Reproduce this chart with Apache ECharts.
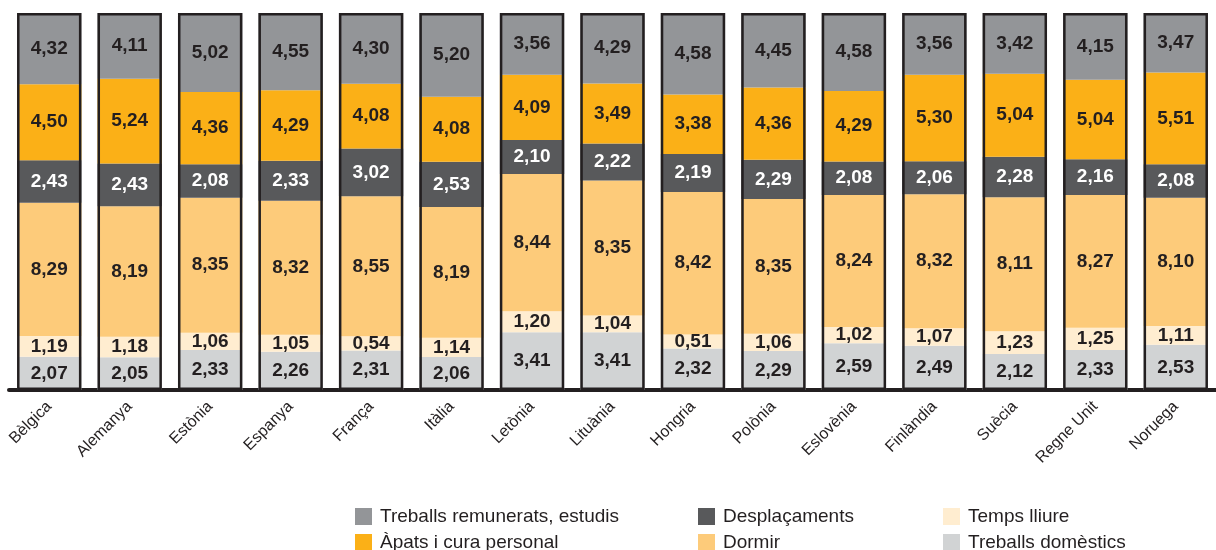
<!DOCTYPE html>
<html>
<head>
<meta charset="utf-8">
<script src="https://cdn.jsdelivr.net/npm/echarts@6/dist/echarts.min.js"></script>
<style>html,body{margin:0;padding:0;background:#fff}#c{width:1216px;height:550px}</style>
</head>
<body>
<div id="c"></div>
<script>
// Values are hours,minutes (h,mm) as printed on the chart
const categories = ['Bèlgica','Alemanya','Estònia','Espanya','França','Itàlia','Letònia','Lituània','Hongria','Polònia','Eslovènia','Finlàndia','Suècia','Regne Unit','Noruega'];
const treballsDomestics = [2.07,2.05,2.33,2.26,2.31,2.06,3.41,3.41,2.32,2.29,2.59,2.49,2.12,2.33,2.53];
const tempsLliure       = [1.19,1.18,1.06,1.05,0.54,1.14,1.20,1.04,0.51,1.06,1.02,1.07,1.23,1.25,1.11];
const dormir            = [8.29,8.19,8.35,8.32,8.55,8.19,8.44,8.35,8.42,8.35,8.24,8.32,8.11,8.27,8.10];
const desplacaments     = [2.43,2.43,2.08,2.33,3.02,2.53,2.10,2.22,2.19,2.29,2.08,2.06,2.28,2.16,2.08];
const apats             = [4.50,5.24,4.36,4.29,4.08,4.08,4.09,3.49,3.38,4.36,4.29,5.30,5.04,5.04,5.51];
const treballsRemunerats= [4.32,4.11,5.02,4.55,4.30,5.20,3.56,4.29,4.58,4.45,4.58,3.56,3.42,4.15,3.47];

const toHours = v => { const h = Math.floor(v + 1e-9); const m = Math.round((v - h) * 100); return h + m / 60; };
const fmt = v => v.toFixed(2).replace('.', ',');
const FONT = 'Liberation Sans, Arial, sans-serif';

const defs = [
  {name:'Treballs domèstics', data:treballsDomestics, color:'#d1d3d4', text:'#231f20'},
  {name:'Temps lliure', data:tempsLliure, color:'#ffedd0', text:'#231f20'},
  {name:'Dormir', data:dormir, color:'#fdcb7a', text:'#231f20'},
  {name:'Desplaçaments', data:desplacaments, color:'#58595b', text:'#ffffff'},
  {name:'Àpats i cura personal', data:apats, color:'#fbb017', text:'#231f20'},
  {name:'Treballs remunerats, estudis', data:treballsRemunerats, color:'#939598', text:'#231f20'}
];

// each bar shown as a share of its day (stack normalised to 24 h)
const totals = categories.map((c, i) => defs.reduce((s, d) => s + toHours(d.data[i]), 0));

const series = defs.map(d => ({
  name: d.name,
  type: 'bar',
  stack: 'total',
  barCategoryGap: '20%',
  data: d.data.map((v, i) => ({value: toHours(v) / totals[i] * 24, raw: v})),
  itemStyle: {color: d.color},
  label: {
    show: true,
    position: 'inside',
    color: d.text,
    fontFamily: FONT,
    fontWeight: 'bold',
    fontSize: 19,
    formatter: p => fmt(p.data.raw)
  },
  emphasis: {disabled: true}
}));

series.push({
  name: 'outline',
  type: 'bar',
  barGap: '-100%',
  barCategoryGap: '20%',
  data: categories.map(() => 24),
  silent: true,
  z: 5,
  itemStyle: {color: 'rgba(0,0,0,0)', borderColor: '#231f20', borderWidth: 2.5},
  label: {show: false},
  emphasis: {disabled: true}
});

const legendBase = {
  orient: 'vertical',
  top: 507,
  height: 60,
  padding: 0,
  itemWidth: 17,
  itemHeight: 17,
  itemGap: 7,
  icon: 'rect',
  selectedMode: false,
  textStyle: {fontFamily: FONT, fontSize: 19, color: '#231f20', padding: [0,0,0,3]}
};

const chart = echarts.init(document.getElementById('c'), null, {renderer: 'canvas'});
chart.setOption({
  animation: false,
  grid: {left: 9, width: 1221, top: 13, bottom: 160, containLabel: false},
  xAxis: {
    type: 'category',
    data: categories,
    axisLine: {lineStyle: {color: '#231f20', width: 4}},
    axisTick: {show: false},
    axisLabel: {rotate: 45, margin: 14, fontSize: 16, color: '#231f20', fontFamily: FONT, interval: 0}
  },
  yAxis: {type: 'value', min: 0, max: 24, show: false},
  legend: [
    Object.assign({}, legendBase, {left: 355, data: ['Treballs remunerats, estudis', 'Àpats i cura personal']}),
    Object.assign({}, legendBase, {left: 698, data: ['Desplaçaments', 'Dormir']}),
    Object.assign({}, legendBase, {left: 943, data: ['Temps lliure', 'Treballs domèstics']})
  ],
  series: series
});
</script>
</body>
</html>
